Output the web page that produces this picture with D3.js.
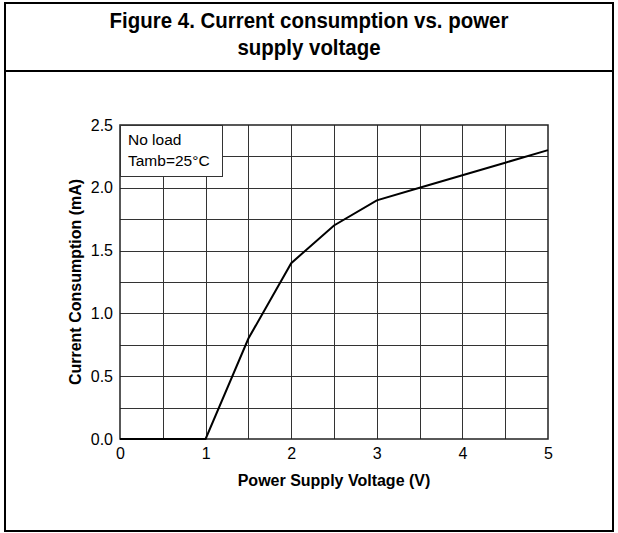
<!DOCTYPE html>
<html>
<head>
<meta charset="utf-8">
<script src="https://cdn.jsdelivr.net/npm/d3@7"></script>
<style>
body { margin: 0; background: #fff; }
text { font-family: "Liberation Sans", Arial, sans-serif; }
</style>
</head>
<body>
<script>
// curve
var voltage = [0, 1, 1.5, 2, 2.5, 3, 3.5, 4, 4.5, 5];
var current = [0, 0, 0.8, 1.4, 1.7, 1.9, 2.0, 2.1, 2.2, 2.3];
var xTicks = [0, 1, 2, 3, 4, 5];
var yTicks = [0, 0.5, 1.0, 1.5, 2.0, 2.5];
var titleLines = ["Figure 4. Current consumption vs. power", "supply voltage"];
var legendLines = ["No load", "Tamb=25\u00B0C"];

var W = 618, H = 533;
var svg = d3.select("body").append("svg")
    .attr("width", W)
    .attr("height", H);

// frame
svg.append("rect")
    .attr("x", 5).attr("y", 3)
    .attr("width", 608).attr("height", 528)
    .attr("fill", "none")
    .attr("stroke", "#000")
    .attr("stroke-width", 2);

svg.append("line")
    .attr("x1", 5).attr("x2", 613)
    .attr("y1", 71).attr("y2", 71)
    .attr("stroke", "#000")
    .attr("stroke-width", 2);

// title font is a bit narrower than Liberation Sans, so squeeze it
svg.append("g")
    .attr("transform", "translate(309,0) scale(0.93,1)")
    .selectAll(".title")
    .data(titleLines)
    .join("text")
    .attr("class", "title")
    .attr("x", 0)
    .attr("y", (d, i) => 28 + i * 27.5)
    .attr("text-anchor", "middle")
    .style("font-size", "22px")
    .style("font-weight", "bold")
    .text(d => d);

var margin = {top: 125, left: 120},
    width = 428,
    height = 314;

var g = svg.append("g")
    .attr("transform", "translate(" + margin.left + "," + margin.top + ")");

var x = d3.scaleLinear().domain([0, 5]).range([0, width]);
var y = d3.scaleLinear().domain([0, 2.5]).range([height, 0]);

// grid every 0.5 V / 0.25 mA
g.append("g")
    .selectAll("line")
    .data(d3.range(1, 10).map(d => d * 0.5))
    .join("line")
    .attr("x1", d => Math.round(x(d)) + 0.5)
    .attr("x2", d => Math.round(x(d)) + 0.5)
    .attr("y1", 0).attr("y2", height)
    .attr("stroke", "#333");

g.append("g")
    .selectAll("line")
    .data(d3.range(1, 10).map(d => d * 0.25))
    .join("line")
    .attr("y1", d => Math.round(y(d)) + 0.5)
    .attr("y2", d => Math.round(y(d)) + 0.5)
    .attr("x1", 0).attr("x2", width)
    .attr("stroke", "#333");

g.append("rect")
    .attr("x", 0).attr("y", 0)
    .attr("width", width).attr("height", height)
    .attr("fill", "none")
    .attr("stroke", "#222")
    .attr("stroke-width", 1.5);

// axes (labels only)
var xAxis = g.append("g")
    .attr("transform", "translate(0," + height + ")")
    .call(d3.axisBottom(x).tickValues(xTicks).tickSize(0).tickPadding(0).tickFormat(d3.format("d")));
xAxis.select(".domain").remove();
xAxis.selectAll("text")
    .attr("y", 20).attr("dy", null)
    .style("font-size", "16px").attr("fill", "#000");

var yAxis = g.append("g")
    .call(d3.axisLeft(y).tickValues(yTicks).tickSize(0).tickPadding(7).tickFormat(d3.format(".1f")));
yAxis.select(".domain").remove();
yAxis.selectAll("text").style("font-size", "16px").attr("fill", "#000");

var line = d3.line()
    .x((d, i) => x(voltage[i]))
    .y(d => y(d));

g.append("path")
    .datum(current)
    .attr("d", line)
    .attr("fill", "none")
    .attr("stroke", "#000")
    .attr("stroke-width", 2);

// legend box
g.append("rect")
    .attr("x", 0.5).attr("y", 0.5)
    .attr("width", 102).attr("height", 51)
    .attr("fill", "#fff")
    .attr("stroke", "#333");

g.selectAll(".legend")
    .data(legendLines)
    .join("text")
    .attr("class", "legend")
    .attr("x", 8)
    .attr("y", (d, i) => 20 + i * 21)
    .style("font-size", "15.5px")
    .text(d => d);

svg.append("text")
    .attr("x", margin.left + width / 2)
    .attr("y", 486)
    .attr("text-anchor", "middle")
    .style("font-size", "16px")
    .style("font-weight", "bold")
    .text("Power Supply Voltage (V)");

svg.append("text")
    .attr("transform", "translate(81," + (margin.top + height / 2) + ") rotate(-90)")
    .attr("text-anchor", "middle")
    .style("font-size", "16px")
    .style("font-weight", "bold")
    .text("Current Consumption (mA)");
</script>
</body>
</html>
